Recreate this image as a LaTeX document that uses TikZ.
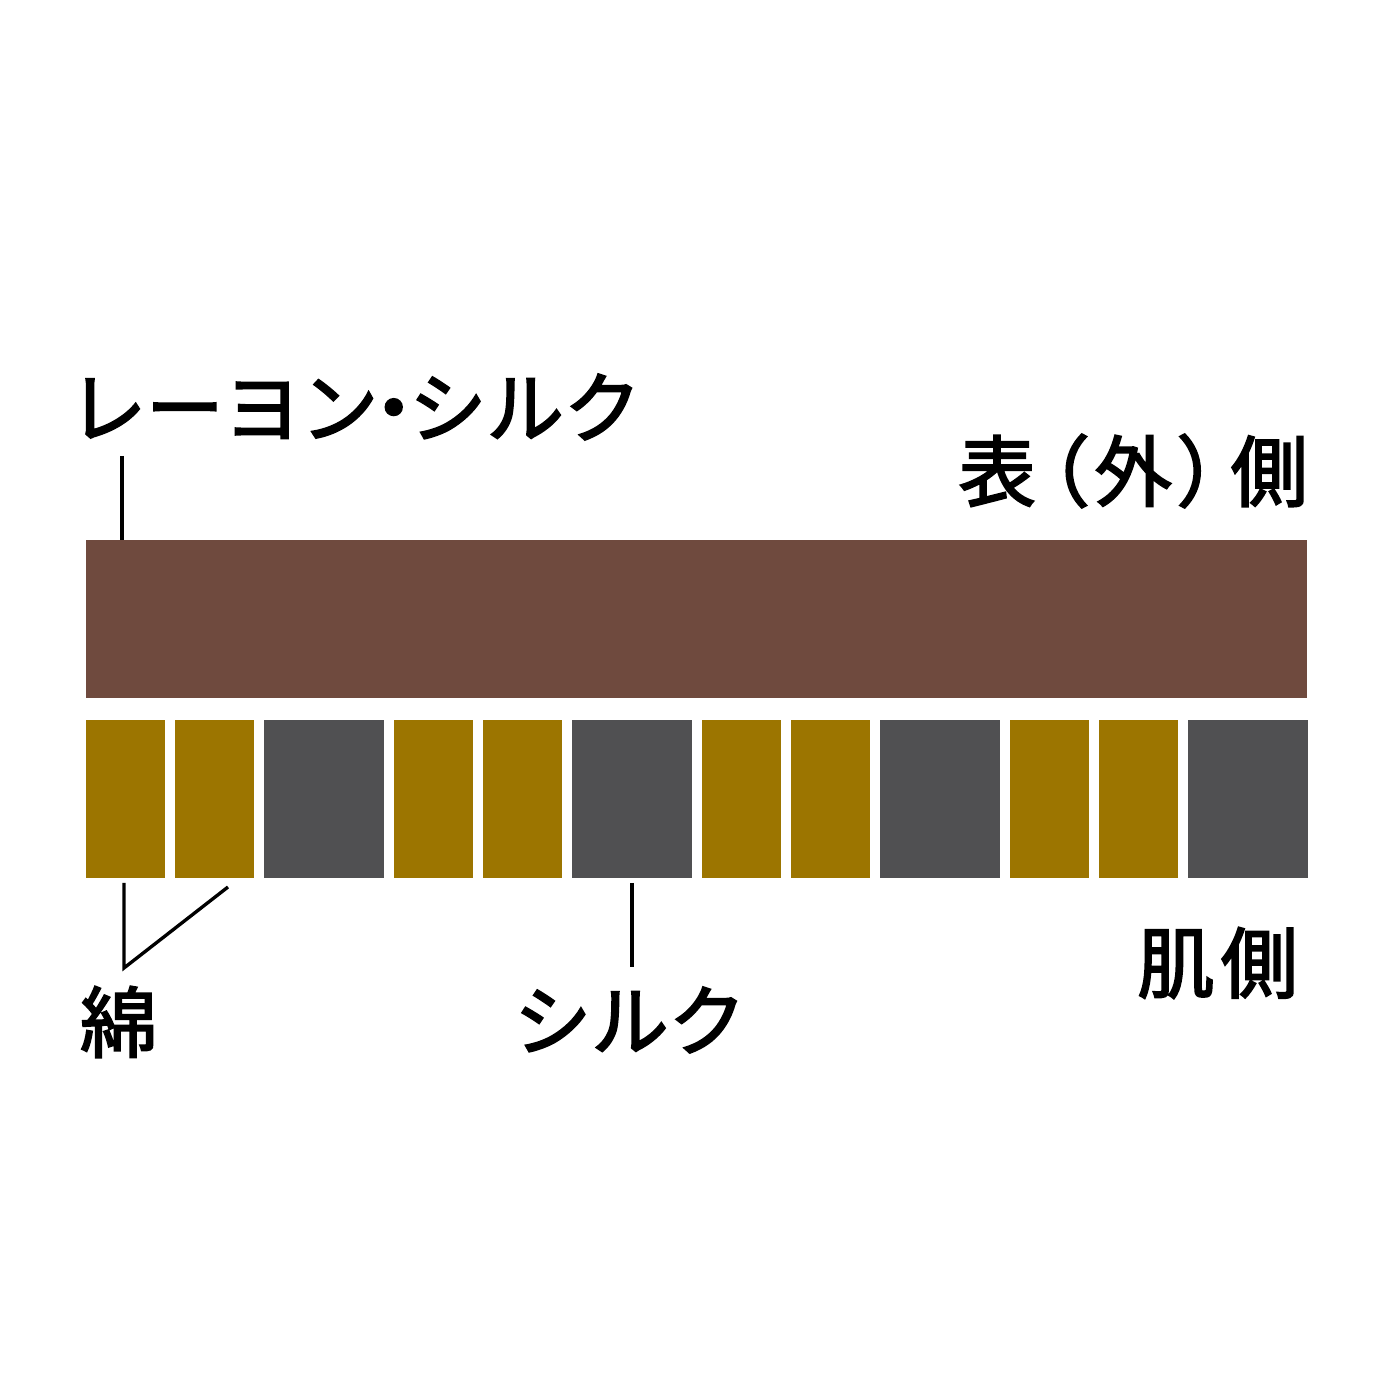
\documentclass[tikz,border=0pt]{standalone}
\usepackage{fontspec}
\setmainfont{Noto Sans CJK JP}[FakeBold=2.5]
\usepackage{tikz}
\usetikzlibrary{positioning}
\definecolor{rayon}{HTML}{6F4A3E}
\definecolor{cotton}{HTML}{9C7500}
\definecolor{silk}{HTML}{505052}

\begin{document}
\begin{tikzpicture}[every node/.style={inner sep=0pt,outer sep=0pt},
  layer/.style={anchor=south west,minimum height=1.58cm},
  cottonblock/.style={layer,fill=cotton,minimum width=0.79cm},
  silkblock/.style={layer,fill=silk,minimum width=1.2cm},
  label/.style={font=\fontsize{22pt}{22pt}\selectfont},
  leader/.style={line width=0.95pt}]
\useasboundingbox (0,0) rectangle (14,14);
% outer layer
\node[layer,fill=rayon,minimum width=12.21cm] (bar) at (0.86,7.02) {};
% skin side: cotton, cotton, silk
\foreach \i in {0,...,3}{
  \node[cottonblock] (c\i a) at (0.86+3.08*\i,5.22) {};
  \node[cottonblock] (c\i b) at (1.75+3.08*\i,5.22) {};
  \node[silkblock] (s\i) at (2.64+3.08*\i,5.22) {};
}
\node[label,anchor=west] (rayonlabel) at (0.69,9.93) {レーヨン\kern-.3em・\kern-.3emシルク};
\node[label,anchor=east] (outer) at (13.08,9.29) {表\kern-.3em（\kern.06em外\kern.06em）\kern-.3em側};
\node[label,anchor=east] (skin) at (12.98,4.37) {肌\kern.08em側};
\node[label,anchor=west] (cottonlabel) at (0.8,3.78) {綿};
\node[label] (silklabel) at (6.3,3.8) {シルク};
% leaders
\coordinate (rl) at (1.22,9.44);
\draw[leader] (rl) -- (rl |- bar.north);
\coordinate (kl) at (1.24,4.32);
\coordinate (kr) at (2.28,5.13);
\draw[leader] ([yshift=-0.05cm]c0a.south -| kl) -- (kl) -- (kr);
\coordinate (sl) at (6.32,4.33);
\draw[leader] ([yshift=-0.05cm]s1.south -| sl) -- (sl);
\end{tikzpicture}
\end{document}
